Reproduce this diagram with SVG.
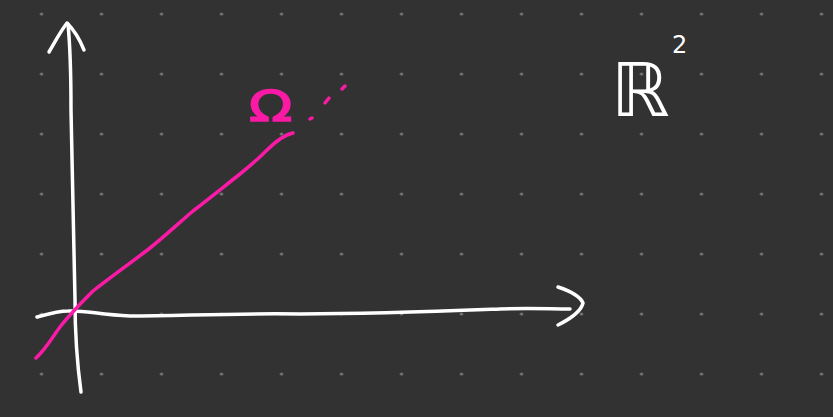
<svg xmlns="http://www.w3.org/2000/svg" width="833" height="417" viewBox="0 0 833 417">
  <defs>
    <pattern id="dots" patternUnits="userSpaceOnUse" x="11.5" y="-16" width="60" height="60">
      <circle cx="30" cy="30" r="1.6" fill="#7c7c7c"/>
    </pattern>
  </defs>
  <style>
    .w { fill: none; stroke: #ffffff; stroke-width: 3.5; stroke-linecap: round; stroke-linejoin: round; }
    .m { fill: none; stroke: #fa1aa6; stroke-width: 3.5; stroke-linecap: round; stroke-linejoin: round; }
    .mt { fill: #fa1aa6; stroke: #fa1aa6; stroke-width: 1.5; font-family: "DejaVu Sans", sans-serif; }
    .wt { fill: #ffffff; font-family: "DejaVu Sans", sans-serif; }
  </style>
  <rect width="833" height="417" fill="#323232"/>
  <rect width="833" height="417" fill="url(#dots)"/>

  <g id="y-axis">
    <path class="w" d="M81 392 C78 370 75 340 75 300 C74 250 72 180 71 110 C71 70 70 45 68 24"/>
    <path class="w" d="M49 52 C55 42 60 32 67 23 C74 30 80 40 84 50"/>
  </g>

  <g id="x-axis">
    <path class="w" d="M37 317 C48 314 58 311 68 311 C85 310 100 315 130 316 C180 316 230 313 300 314 C380 314 450 311 500 309 C530 308 550 309 570 309"/>
    <path class="w" d="M558 287 C570 291 580 296 583 303 C581 312 570 319 558 325"/>
  </g>

  <g id="omega-line">
    <path class="m" d="M36 358 C45 350 52 338 60 327 C70 314 82 302 93 291 C112 276 132 262 150 248 C165 236 180 222 193 211 C210 198 226 185 240 174 C250 166 258 159 266 151 C274 143 283 135 293 133"/>
    <path class="m" d="M310 119 L312 118"/>
    <path class="m" d="M325 103 L329 98"/>
    <path class="m" d="M342 89 L345 86"/>
  </g>

  <g id="omega-label">
    <text class="mt" x="249" y="121" font-size="42" transform="translate(249 121) scale(1.35 1) translate(-249 -121)">Ω</text>
  </g>

  <g id="r2-label">
    <text class="wt" x="611" y="116" font-size="74">ℝ</text>
    <text class="wt" x="672" y="53" font-size="24">2</text>
  </g>
</svg>
